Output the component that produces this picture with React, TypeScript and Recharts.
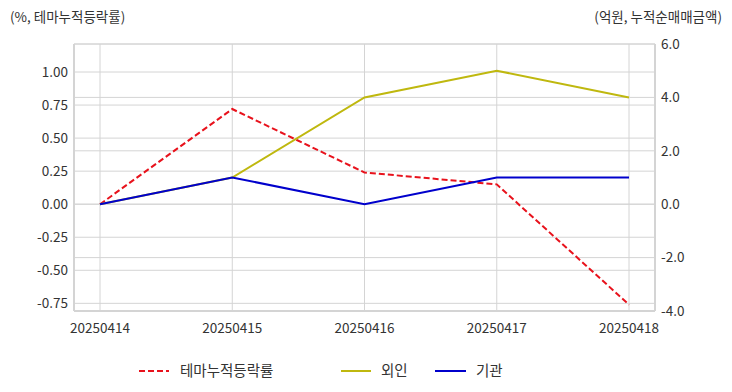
import React from 'react';
import { LineChart, Line, XAxis, YAxis, CartesianGrid } from 'recharts';

const dates = ['20250414', '20250415', '20250416', '20250417', '20250418'];
const themeRate = [0.0, 0.72, 0.24, 0.15, -0.76];
const foreign = [0.0, 1.0, 4.0, 5.0, 4.0];
const institution = [0.0, 1.0, 0.0, 1.0, 1.0];
const leftTicks = [-0.75, -0.5, -0.25, 0, 0.25, 0.5, 0.75, 1.0];
const rightTicks = [-4, -2, 0, 2, 4, 6];

const data = dates.map((d, i) => ({
  date: d,
  theme: themeRate[i],
  foreign: foreign[i],
  inst: institution[i],
}));

const FONT = '"Noto Sans CJK KR", "Noto Sans", sans-serif';
const GRID = '#d4d4d4';
const TEXT = '#333333';
const RED = '#e8121c';
const OLIVE = '#bfb80f';
const BLUE = '#0000cc';

const tickStyle = { fontSize: 13.5, fill: TEXT, fontFamily: FONT };

export default function App() {
  return (
    <div style={{ position: 'absolute', left: 0, top: 0, width: 732, height: 392, fontFamily: FONT, background: '#fff' }}>
      <LineChart
        width={732}
        height={392}
        data={data}
        margin={{ top: 44, right: 0, left: 0, bottom: 51 }}
      >
        <CartesianGrid yAxisId="left" stroke={GRID} vertical={true} horizontal={true} />
        <CartesianGrid yAxisId="right" stroke={GRID} vertical={false} horizontal={true} />
        <XAxis
          dataKey="date"
          padding={{ left: 26, right: 26 }}
          tick={tickStyle}
          tickLine={false}
          axisLine={{ stroke: GRID, strokeWidth: 2 }}
          tickMargin={6}
          height={30}
          interval={0}
        />
        <XAxis
          xAxisId="top"
          dataKey="date"
          orientation="top"
          padding={{ left: 26, right: 26 }}
          tick={false}
          tickLine={false}
          axisLine={{ stroke: GRID, strokeWidth: 2 }}
          height={0}
        />
        <YAxis
          yAxisId="left"
          orientation="left"
          width={74}
          domain={[-0.808, 1.212]}
          ticks={leftTicks}
          tickFormatter={(v: number) => v.toFixed(2)}
          tick={tickStyle}
          tickLine={false}
          axisLine={{ stroke: GRID, strokeWidth: 2 }}
          tickMargin={0}
          allowDataOverflow
        />
        <YAxis
          yAxisId="right"
          orientation="right"
          width={77}
          domain={[-4, 6]}
          ticks={rightTicks}
          tickFormatter={(v: number) => v.toFixed(1)}
          tick={tickStyle}
          tickLine={false}
          axisLine={{ stroke: GRID, strokeWidth: 2 }}
          tickMargin={0}
          allowDataOverflow
        />
        <Line
          yAxisId="left"
          type="linear"
          dataKey="theme"
          stroke={RED}
          strokeWidth={2}
          strokeDasharray="6 3"
          dot={false}
          isAnimationActive={false}
        />
        <Line
          yAxisId="right"
          type="linear"
          dataKey="foreign"
          stroke={OLIVE}
          strokeWidth={2}
          dot={false}
          isAnimationActive={false}
        />
        <Line
          yAxisId="right"
          type="linear"
          dataKey="inst"
          stroke={BLUE}
          strokeWidth={2}
          dot={false}
          isAnimationActive={false}
        />
      </LineChart>
      <div style={{ position: 'absolute', left: 10, top: 6, fontSize: 13.5, color: TEXT }}>(%, 테마누적등락률)</div>
      <div style={{ position: 'absolute', right: 10, top: 6, fontSize: 13.5, color: TEXT }}>(억원, 누적순매매금액)</div>
      <div style={{ position: 'absolute', left: 0, top: 360, width: 732, height: 20, fontSize: 14.5, color: TEXT }}>
        <svg style={{ position: 'absolute', left: 139, top: 9 }} width={30} height={4}>
          <line x1={0} y1={2} x2={30} y2={2} stroke={RED} strokeWidth={2} strokeDasharray="6 3" />
        </svg>
        <span style={{ position: 'absolute', left: 180, top: 0, lineHeight: '20px' }}>테마누적등락률</span>
        <svg style={{ position: 'absolute', left: 341, top: 9 }} width={30} height={4}>
          <line x1={0} y1={2} x2={30} y2={2} stroke={OLIVE} strokeWidth={2} />
        </svg>
        <span style={{ position: 'absolute', left: 381, top: 0, lineHeight: '20px' }}>외인</span>
        <svg style={{ position: 'absolute', left: 435, top: 9 }} width={31} height={4}>
          <line x1={0} y1={2} x2={31} y2={2} stroke={BLUE} strokeWidth={2} />
        </svg>
        <span style={{ position: 'absolute', left: 476, top: 0, lineHeight: '20px' }}>기관</span>
      </div>
    </div>
  );
}
